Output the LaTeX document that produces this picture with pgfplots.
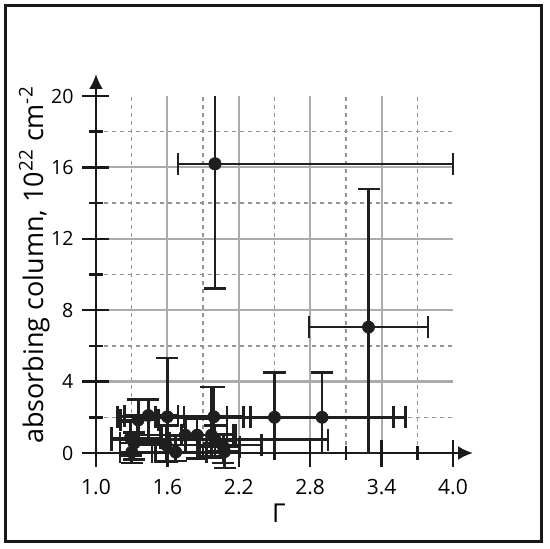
\documentclass[border=0pt]{standalone}
\usepackage{fontspec}
\setmainfont{Open Sans}
\usepackage{pgfplots}
\usepackage{pgfplotstable}
\pgfplotsset{compat=1.18}
\usetikzlibrary{arrows.meta}

\pgfplotstableread{
x y exm exp eym eyp
1.29 0.85 0.16 0.25 1.00 0.90
1.30 0.05 0.10 0.20 0.60 0.80
1.32 0.55 0.12 0.30 0.90 0.60
1.355 1.85 0.15 0.17 1.20 1.15
1.44 2.10 0.20 0.25 1.50 0.90
1.60 2.03 0.42 0.50 2.50 3.30
1.59 0.45 0.30 0.80 0.90 1.10
1.67 0.05 0.20 0.40 0.50 0.90
1.75 1.00 0.40 0.35 1.00 1.00
1.85 1.00 0.30 0.30 1.30 0.90
1.97 1.00 0.25 0.20 1.20 2.70
1.99 2.03 0.25 0.25 1.50 1.67
2.00 0.75 0.87 0.95 1.00 0.80
2.07 0.35 0.20 0.14 0.90 0.70
2.08 0.07 0.15 0.12 0.90 0.60
2.50 2.00 1.00 1.00 2.00 2.50
2.90 2.00 0.60 0.70 2.00 2.50
3.29 7.05 0.50 0.50 7.05 7.75
}\datatab

\pgfplotstableread{
x y exm exp eym eyp
2.00 16.2 0.31 2.00 7.00 3.80
}\toptab

\begin{document}
\begin{tikzpicture}
\useasboundingbox (-48bp,-48bp) rectangle (227bp,226.5bp);
\draw[line width=1.3bp, color=black!90] (-45.15bp,-44.35bp) rectangle (222.85bp,223.65bp);
\begin{axis}[
  at={(0,0)}, anchor=south west,
  scale only axis, width=178.5bp, height=178.5bp,
  xmin=1, xmax=4, ymin=0, ymax=20,
  clip=false,
  axis lines=left,
  axis line style={line width=1.25bp, black!90},
  x axis line style={-{Latex[length=7.5bp,width=7bp]}, shorten >=-10bp},
  y axis line style={-{Latex[length=7.5bp,width=7bp]}, shorten >=-11bp},
  xtick={1.0,1.6,2.2,2.8,3.4}, xticklabels={1.0,1.6,2.2,2.8,3.4},
  extra x ticks={4.0}, extra x tick labels={4.0}, extra x tick style={grid=none},
  minor xtick={1.3,1.9,2.5,3.1,3.7},
  ytick={0,4,8,12,16}, extra y ticks={20}, extra y tick labels={20}, extra y tick style={grid=none},
  minor ytick={2,6,10,14,18},
  grid=both,
  major grid style={line width=1.1bp, color=black!33},
  minor grid style={line width=0.8bp, color=black!42, dash pattern=on 2.2bp off 1.8bp},
  tick align=center,
  major tick length=13.5bp, minor tick length=7bp,
  every tick/.style={line width=1.2bp, black!90},
  /pgf/number format/assume math mode=true,
  xticklabel style={font=\fontsize{10.5bp}{12bp}\selectfont, yshift=-3bp},
  yticklabel style={font=\fontsize{9.8bp}{11bp}\selectfont, xshift=-1bp},
]
\addplot[only marks, mark=*, mark size=3bp, color=black!88,
  error bars/.cd, x dir=both, y dir=both, x explicit, y explicit,
  error bar style={line width=1.3bp, black!88},
  error mark options={rotate=90, mark size=5.5bp, line width=1.3bp, black!88}]
  table[x=x, y=y, x error plus=exp, x error minus=exm, y error plus=eyp, y error minus=eym]{\datatab};
\addplot[only marks, mark=*, mark size=3bp, color=black!88,
  error bars/.cd, x dir=both, y dir=minus, x explicit, y explicit,
  error bar style={line width=1.3bp, black!88},
  error mark options={rotate=90, mark size=5.5bp, line width=1.3bp, black!88}]
  table[x=x, y=y, x error plus=exp, x error minus=exm, y error minus=eym]{\toptab};
\addplot[only marks, mark=*, mark size=3bp, color=black!88,
  error bars/.cd, y dir=plus, y explicit, error mark=none,
  error bar style={line width=1.3bp, black!88}]
  table[x=x, y=y, y error plus=eyp]{\toptab};
\end{axis}
\node[rotate=90, anchor=south, inner sep=0pt, font=\fontsize{13.5bp}{16bp}\selectfont] at (-23bp,94bp) {absorbing column, 10\textsuperscript{22} cm\textsuperscript{-2}};
\node[anchor=base, inner sep=0pt, font=\fontsize{13bp}{16bp}\selectfont] at (91.5bp,-34.5bp) {Γ};
\end{tikzpicture}
\end{document}
